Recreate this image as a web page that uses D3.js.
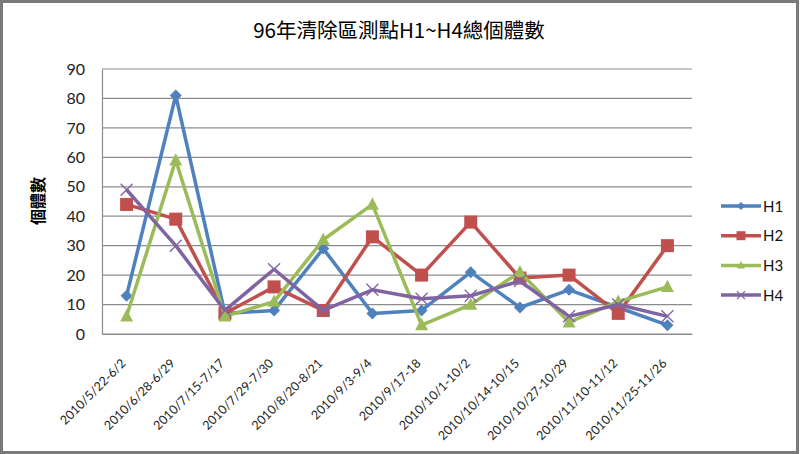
<!DOCTYPE html>
<html>
<head>
<meta charset="utf-8">
<script src="https://cdn.jsdelivr.net/npm/d3@7"></script>
<style>
  body { margin: 0; background: #fff; }
  svg text { font-family: Lato, "Open Sans", sans-serif; }
</style>
</head>
<body>
<svg id="chart" width="800" height="454"></svg>
<script>
// data
const periods = ["2010/5/22-6/2", "2010/6/28-6/29", "2010/7/15-7/17", "2010/7/29-7/30",
  "2010/8/20-8/21", "2010/9/3-9/4", "2010/9/17-18", "2010/10/1-10/2", "2010/10/14-10/15",
  "2010/10/27-10/29", "2010/11/10-11/12", "2010/11/25-11/26"];
const h1 = [13, 81, 7, 8, 29, 7, 8, 21, 9, 15, 9, 3];
const h2 = [44, 39, 7, 16, 8, 33, 20, 38, 19, 20, 7, 30];
const h3 = [6, 59, 6, 11, 32, 44, 3, 10, 21, 4, 11, 16];
const h4 = [49, 30, 8, 22, 8, 15, 12, 13, 18, 6, 10, 6];
const yTicks = [0, 10, 20, 30, 40, 50, 60, 70, 80, 90];

const series = [
  {name: "H1", values: h1, color: "#4F81BD", marker: "diamond"},
  {name: "H2", values: h2, color: "#C0504D", marker: "square"},
  {name: "H3", values: h3, color: "#9BBB59", marker: "triangle"},
  {name: "H4", values: h4, color: "#8064A2", marker: "x"}
];

const svg = d3.select("#chart");
const plotL = 102, plotR = 692, plotT = 69, plotB = 334;

// outer frame
svg.append("rect")
  .attr("x", 1.5).attr("y", 1.5)
  .attr("width", 796).attr("height", 451)
  .attr("fill", "#fff")
  .attr("stroke", "#7a7a7a")
  .attr("stroke-width", 3);

svg.append("text")
  .attr("x", 399).attr("y", 38)
  .attr("text-anchor", "middle")
  .style("font-family", "'Noto Sans CJK TC', 'Noto Sans CJK SC', sans-serif")
  .style("font-size", "20.5px")
  .text("96年清除區測點H1~H4總個體數");

const x = d3.scaleBand().domain(periods).range([plotL, plotR]);
const y = d3.scaleLinear().domain([0, 90]).range([plotB, plotT]);

// gridlines
svg.append("g")
  .selectAll("line")
  .data(yTicks)
  .join("line")
  .attr("x1", plotL).attr("x2", plotR)
  .attr("y1", d => y(d)).attr("y2", d => y(d))
  .attr("stroke", "#8c8c8c")
  .attr("stroke-width", 1.2);

const yAxis = svg.append("g")
  .attr("transform", `translate(${plotL},0)`)
  .call(d3.axisLeft(y).tickValues(yTicks).tickSize(0).tickPadding(17));
yAxis.select(".domain").attr("stroke", "#8c8c8c").attr("stroke-width", 1.2);
yAxis.selectAll("text")
  .style("font-size", "16px")
  .attr("fill", "#222");

const xAxis = svg.append("g")
  .attr("transform", `translate(0,${plotB})`)
  .call(d3.axisBottom(x).tickSize(0));
xAxis.select(".domain").attr("stroke", "#8c8c8c").attr("stroke-width", 1.2);
xAxis.selectAll("text")
  .style("font-size", "12.5px")
  .attr("fill", "#222")
  .attr("text-anchor", "end")
  .attr("dy", 0)
  .attr("transform", "translate(-2,28) rotate(-45)");

svg.append("text")
  .attr("transform", "translate(44,201) rotate(-90)")
  .attr("text-anchor", "middle")
  .style("font-family", "'Noto Sans CJK TC', sans-serif")
  .style("font-size", "16px")
  .style("font-weight", "bold")
  .text("個體數");

const line = d3.line()
  .x((d, i) => x(periods[i]) + x.bandwidth() / 2)
  .y(d => y(d));

function drawMarker(g, type, color, s) {
  if (type == "diamond") {
    g.append("path").attr("d", `M0,${-s}L${s},0L0,${s}L${-s},0Z`).attr("fill", color);
  } else if (type == "square") {
    g.append("rect").attr("x", -s).attr("y", -s).attr("width", 2 * s).attr("height", 2 * s)
      .attr("fill", color);
  } else if (type == "triangle") {
    g.append("path").attr("d", `M0,${-s * 1.1}L${s},${s * 0.8}L${-s},${s * 0.8}Z`).attr("fill", color);
  } else {
    g.append("path").attr("d", `M${-s},${-s}L${s},${s}M${s},${-s}L${-s},${s}`)
      .attr("stroke", color).attr("stroke-width", 1.3).attr("fill", "none");
  }
}

const sizes = {diamond: 6, square: 6.5, triangle: 6.5, x: 6};

series.forEach(s => {
  const g = svg.append("g");
  g.append("path")
    .datum(s.values)
    .attr("d", line)
    .attr("fill", "none")
    .attr("stroke", s.color)
    .attr("stroke-width", 3.5)
    .attr("stroke-linejoin", "round");
  g.selectAll("g.m")
    .data(s.values)
    .join("g")
    .attr("class", "m")
    .attr("transform", (d, i) => `translate(${x(periods[i]) + x.bandwidth() / 2},${y(d)})`)
    .each(function() { drawMarker(d3.select(this), s.marker, s.color, sizes[s.marker]); });
});

// legend
const legend = svg.append("g");
series.forEach((s, i) => {
  const ly = 206 + i * 29.7;
  const lg = legend.append("g").attr("transform", `translate(721,${ly})`);
  lg.append("line").attr("x1", 0).attr("x2", 40).attr("y1", 0).attr("y2", 0)
    .attr("stroke", s.color).attr("stroke-width", 3.5);
  const m = lg.append("g").attr("transform", "translate(20,0)");
  drawMarker(m, s.marker, s.color, s.marker == "square" ? 4.5 : 4);
  lg.append("text").attr("x", 42).attr("y", 5.5)
    .style("font-size", "15px").attr("fill", "#111").text(s.name);
});
</script>
</body>
</html>
